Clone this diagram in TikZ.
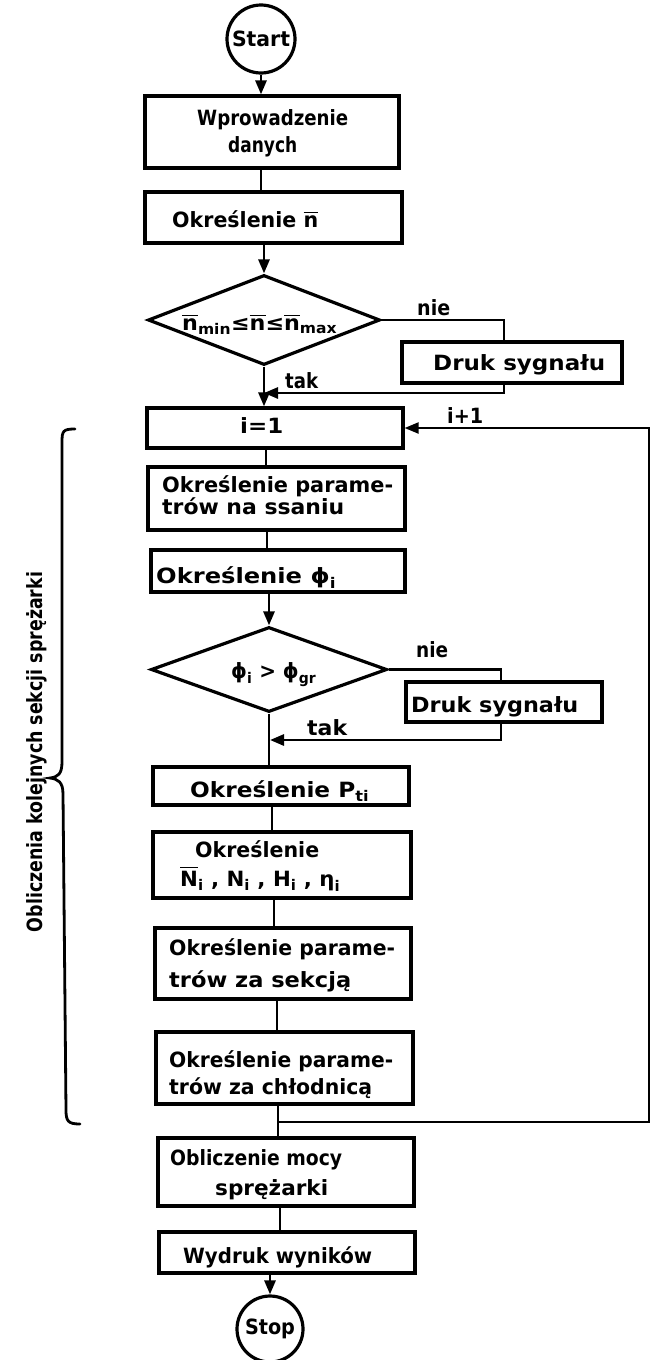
\documentclass[tikz,border=0pt]{standalone}
\usepackage{fontspec}
\setmainfont{DejaVu Sans}
\usepackage{amsmath}
\usepackage{graphicx}
\usetikzlibrary{arrows.meta,shapes.geometric}
\newcommand\fw[2]{\resizebox{#1pt}{\height}{#2}}
\newcommand\ob[1]{\overline{\text{#1}}}
\newcommand\sbx[1]{_{\text{#1}}}
\begin{document}
\begin{tikzpicture}[x=1pt,y=-1pt,
  box/.style={draw, rectangle, line width=3.2pt, inner sep=0pt},
  term/.style={draw, circle, line width=3.2pt, inner sep=0pt, font=\fontsize{21}{25}\selectfont\bfseries},
  dec/.style={draw, diamond, line width=3.2pt, inner sep=0pt},
  txt/.style={inner sep=0pt, anchor=base west, font=\fontsize{21}{25}\selectfont\bfseries},
  con/.style={line width=2.8pt},
  arr/.style={con, -{Triangle[length=14pt,width=11pt]}},
  loopline/.style={line width=2.2pt, -{Triangle[length=14pt,width=11pt]}}]
\useasboundingbox (0,0) rectangle (654,1360);
% terminals
\node[term, minimum size=68pt] (start) at (261,39) {\fw{58}{Start}};
\node[term, minimum size=66pt] (stop) at (270,1329) {\fw{50}{Stop}};
% boxes
\node[box, minimum width=254pt, minimum height=72pt] (b1) at (272,132) {};
\node[box, minimum width=257pt, minimum height=51pt] (b2) at (273.5,217.5) {};
\node[dec, minimum width=232pt, minimum height=90pt] (d1) at (264,320) {};
\node[box, minimum width=220pt, minimum height=41pt] (s1) at (512,362.5) {};
\node[box, minimum width=256pt, minimum height=40pt] (i1) at (275,428) {};
\node[box, minimum width=257pt, minimum height=63pt] (b3) at (276.5,498.5) {};
\node[box, minimum width=254pt, minimum height=42pt] (b4) at (278,571) {};
\node[dec, minimum width=236pt, minimum height=85pt] (d2) at (269,669.5) {};
\node[box, minimum width=196pt, minimum height=40pt] (s2) at (504,702) {};
\node[box, minimum width=256pt, minimum height=38pt] (b5) at (281,786) {};
\node[box, minimum width=258pt, minimum height=66pt] (b6) at (282,865) {};
\node[box, minimum width=256pt, minimum height=71pt] (b7) at (283,963.5) {};
\node[box, minimum width=257pt, minimum height=72pt] (b8) at (284.5,1068) {};
\node[box, minimum width=256pt, minimum height=68pt] (b9) at (286,1172) {};
\node[box, minimum width=256pt, minimum height=41pt] (b10) at (287,1252.5) {};
% texts
\node[txt] (t1a) at (197,125) {\fw{151}{Wprowadzenie}};
\node[txt] (t1b) at (228,152) {\fw{69}{danych}};
\node[txt] (t2) at (172,227) {\fw{146}{Określenie $\ob{n}$}};
\node[txt] (td1) at (182,330) {\fw{155}{$\ob{n}\sbx{min}\text{≤}\ob{n}\text{≤}\ob{n}\sbx{max}$}};
\node[txt] (nie1) at (417,315) {\fw{33}{nie}};
\node[txt] (ts1) at (433,370) {\fw{172}{Druk sygnału}};
\node[txt] (tak1) at (285,388) {\fw{33}{tak}};
\node[txt] (ti1) at (240,433) {\fw{43}{i=1}};
\node[txt] (ip1) at (447,423) {\fw{36}{i+1}};
\node[txt] (t3a) at (162,492) {\fw{231}{Określenie parame-}};
\node[txt] (t3b) at (162,514) {\fw{182}{trów na ssaniu}};
\node[txt] (t4) at (156,583) {\fw{180}{Określenie $\text{ϕ}\sbx{i}$}};
\node[txt] (td2) at (231,678) {\fw{85}{$\text{ϕ}\sbx{i}\text{ > }\text{ϕ}\sbx{gr}$}};
\node[txt] (nie2) at (416,657) {\fw{32}{nie}};
\node[txt] (ts2) at (411,712) {\fw{167}{Druk sygnału}};
\node[txt] (tak2) at (307,735) {\fw{40}{tak}};
\node[txt] (t5) at (190,797) {\fw{179}{Określenie P$\sbx{ti}$}};
\node[txt] (t6a) at (195,857) {\fw{124}{Określenie}};
\node[txt] (t6b) at (180,886) {\fw{160}{$\ob{N}\sbx{i}\text{ , N}\sbx{i}\text{ , H}\sbx{i}\text{ , η}\sbx{i}$}};
\node[txt] (t7a) at (169,955) {\fw{226}{Określenie parame-}};
\node[txt] (t7b) at (169,987) {\fw{182}{trów za sekcją}};
\node[txt] (t8a) at (169,1067) {\fw{224}{Określenie parame-}};
\node[txt] (t8b) at (169,1094) {\fw{203}{trów za chłodnicą}};
\node[txt] (t9a) at (170,1165) {\fw{172}{Obliczenie mocy}};
\node[txt] (t9b) at (215,1195) {\fw{113}{sprężarki}};
\node[txt] (t10) at (183,1263) {\fw{189}{Wydruk wyników}};
\node[inner sep=0pt, anchor=base, rotate=90, font=\fontsize{21}{25}\selectfont\bfseries] (side) at (42,752) {\fw{360}{Obliczenia kolejnych sekcji sprężarki}};
% coordinates
\coordinate (xa) at (261,0);
\coordinate (xb) at (266,0);
\coordinate (xc) at (267,0);
\coordinate (xd) at (272,0);
\coordinate (xe) at (274,0);
\coordinate (xf) at (277,0);
\coordinate (xg) at (278,0);
\coordinate (xh) at (280,0);
\coordinate (xn1) at (504,0);
\coordinate (xn2) at (501,0);
\coordinate (xr) at (649,0);
\coordinate (j1) at (264,393);
\coordinate (j2) at (270,740);
\coordinate (j3) at (278,1122);
% connectors
\draw[arr] (start) -- (start |- b1.north);
\draw[con] (b1.south -| xa) -- (b2.north -| xa);
\draw[arr] (b2.south -| d1) -- (d1.north);
\draw[con] (d1.east) -| (s1.north -| xn1);
\draw[arr] (s1.south -| xn1) |- (j1);
\draw[arr] (d1.south) -- (d1.south |- i1.north);
\draw[con] (i1.south -| xb) -- (b3.north -| xb);
\draw[con] (b3.south -| xc) -- (b4.north -| xc);
\draw[arr] (b4.south -| d2) -- (d2.north);
\draw[con] (d2.east) -| (s2.north -| xn2);
\draw[arr] (s2.south -| xn2) |- (j2);
\draw[con] (d2.south) -- (d2.south |- b5.north);
\draw[con] (b5.south -| xd) -- (b6.north -| xd);
\draw[con] (b6.south -| xe) -- (b7.north -| xe);
\draw[con] (b7.south -| xf) -- (b8.north -| xf);
\draw[con] (b8.south -| xg) -- (b9.north -| xg);
\draw[con] (b9.south -| xh) -- (b10.north -| xh);
\draw[arr] (b10.south -| stop) -- (stop);
\draw[loopline] (j3) -- (j3 -| xr) -- (xr |- i1.east) -- (i1.east);
% brace
\draw[line width=2.8pt, line cap=round] (75,429) .. controls (63,429) and (62,431) .. (62,442) -- (62,762) .. controls (62,774) and (58,777) .. (50,778) .. controls (58,779) and (63,782) .. (63,794) -- (66,1110) .. controls (66,1121) and (68,1124) .. (80,1124);
\end{tikzpicture}
\end{document}
